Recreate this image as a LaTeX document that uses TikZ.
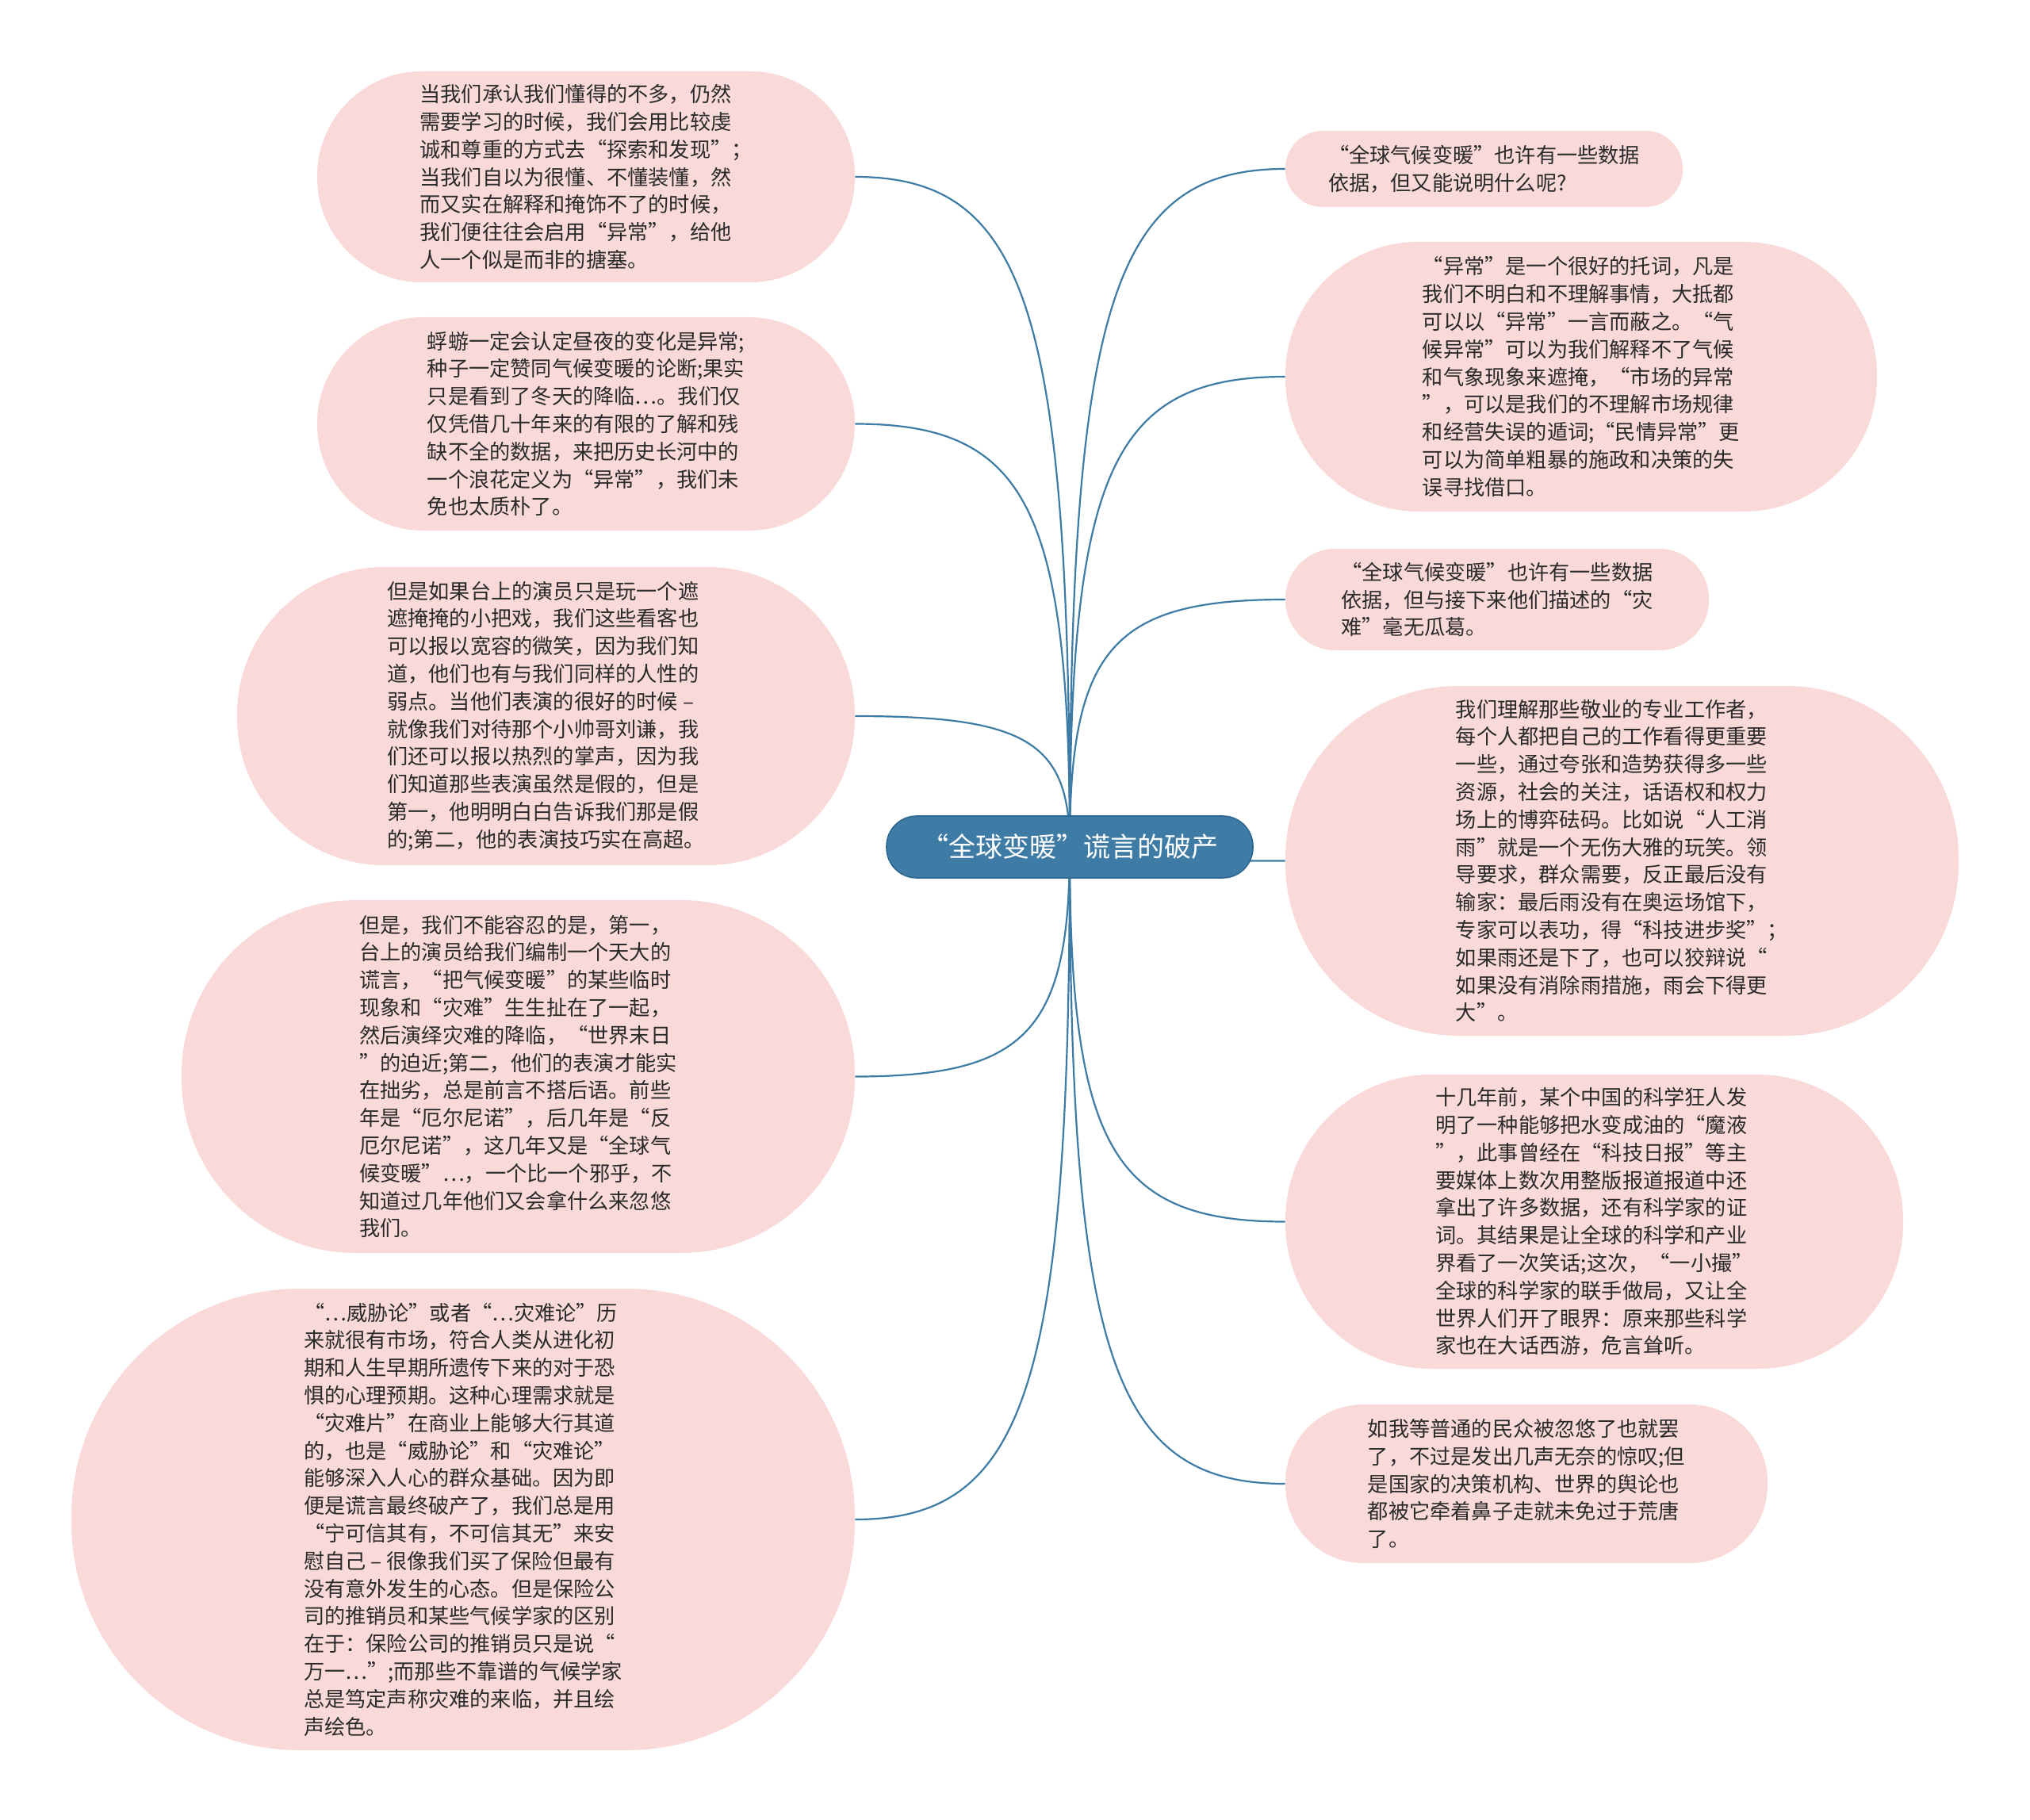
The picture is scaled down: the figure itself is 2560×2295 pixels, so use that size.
\documentclass[tikz,border=0pt]{standalone}
\usepackage{fontspec}
\newfontfamily\cjk{Noto Sans CJK SC}
\usetikzlibrary{backgrounds,calc}
\definecolor{pinkfill}{HTML}{FAD9D9}
\definecolor{linkblue}{HTML}{3F7CA5}
\definecolor{hubfill}{HTML}{3E7BA5}
\definecolor{hubline}{HTML}{2E6890}
\definecolor{txt}{HTML}{2A2A2A}
\begin{document}
\begin{tikzpicture}[x=0.5pt,y=-0.5pt,
  leaf/.style={fill=pinkfill, draw=none, inner sep=0pt, align=left, text=txt,
    font=\cjk\fontsize{13.1pt}{17.4pt}\selectfont},
  hub/.style={fill=hubfill, draw=hubline, line width=0.8pt, inner sep=0pt, text=white,
    minimum width=231pt, minimum height=39pt, rounded corners=19pt,
    font=\cjk\fontsize{17pt}{20pt}\selectfont},
  link/.style={draw=linkblue, line width=1.1pt}]
\useasboundingbox (0,0) rectangle (2560,2295);

\node[hub] (hub) at (1349,1068) {“全球变暖”谎言的破产};

\node[leaf, minimum width=339pt, minimum height=133pt, rounded corners=66pt] (L1) at (739,223)
 {当我们承认我们懂得的不多，仍然\\需要学习的时候，我们会用比较虔\\诚和尊重的方式去“探索和发现”；\\当我们自以为很懂、不懂装懂，然\\而又实在解释和掩饰不了的时候，\\我们便往往会启用“异常”，给他\\人一个似是而非的搪塞。};
\node[leaf, minimum width=339pt, minimum height=134.5pt, rounded corners=67pt] (L2) at (739,534.5)
 {蜉蝣一定会认定昼夜的变化是异常;\\种子一定赞同气候变暖的论断;果实\\只是看到了冬天的降临…。我们仅\\仅凭借几十年来的有限的了解和残\\缺不全的数据，来把历史长河中的\\一个浪花定义为“异常”，我们未\\免也太质朴了。};
\node[leaf, minimum width=389.5pt, minimum height=188pt, rounded corners=93pt] (L3) at (688.5,903)
 {但是如果台上的演员只是玩一个遮\\遮掩掩的小把戏，我们这些看客也\\可以报以宽容的微笑，因为我们知\\道，他们也有与我们同样的人性的\\弱点。当他们表演的很好的时候 –\\就像我们对待那个小帅哥刘谦，我\\们还可以报以热烈的掌声，因为我\\们知道那些表演虽然是假的，但是\\第一，他明明白白告诉我们那是假\\的;第二，他的表演技巧实在高超。};
\node[leaf, minimum width=424.5pt, minimum height=222.5pt, rounded corners=110pt] (L4) at (653.5,1357.5)
 {但是，我们不能容忍的是，第一，\\台上的演员给我们编制一个天大的\\谎言，“把气候变暖”的某些临时\\现象和“灾难”生生扯在了一起，\\然后演绎灾难的降临，“世界末日\\”的迫近;第二，他们的表演才能实\\在拙劣，总是前言不搭后语。前些\\年是“厄尔尼诺”，后几年是“反\\厄尔尼诺”，这几年又是“全球气\\候变暖”…，一个比一个邪乎，不\\知道过几年他们又会拿什么来忽悠\\我们。};
\node[leaf, minimum width=494pt, minimum height=291pt, rounded corners=144pt] (L5) at (584,1916)
 {“…威胁论”或者“…灾难论”历\\来就很有市场，符合人类从进化初\\期和人生早期所遗传下来的对于恐\\惧的心理预期。这种心理需求就是\\“灾难片”在商业上能够大行其道\\的，也是“威胁论”和“灾难论”\\能够深入人心的群众基础。因为即\\便是谎言最终破产了，我们总是用\\“宁可信其有，不可信其无”来安\\慰自己 – 很像我们买了保险但最有\\没有意外发生的心态。但是保险公\\司的推销员和某些气候学家的区别\\在于：保险公司的推销员只是说“\\万一…”;而那些不靠谱的气候学家\\总是笃定声称灾难的来临，并且绘\\声绘色。};

\node[leaf, minimum width=250.5pt, minimum height=48pt, rounded corners=23.5pt] (R1) at (1871.5,213)
 {“全球气候变暖”也许有一些数据\\依据，但又能说明什么呢?};
\node[leaf, minimum width=373pt, minimum height=170pt, rounded corners=84pt] (R2) at (1994,475)
 {“异常”是一个很好的托词，凡是\\我们不明白和不理解事情，大抵都\\可以以“异常”一言而蔽之。“气\\候异常”可以为我们解释不了气候\\和气象现象来遮掩，“市场的异常\\”，可以是我们的不理解市场规律\\和经营失误的遁词;“民情异常”更\\可以为简单粗暴的施政和决策的失\\误寻找借口。};
\node[leaf, minimum width=267pt, minimum height=64pt, rounded corners=31.5pt] (R3) at (1888,756)
 {“全球气候变暖”也许有一些数据\\依据，但与接下来他们描述的“灾\\难”毫无瓜葛。};
\node[leaf, minimum width=424.5pt, minimum height=220.5pt, rounded corners=109pt] (R4) at (2045.5,1085.5)
 {我们理解那些敬业的专业工作者，\\每个人都把自己的工作看得更重要\\一些，通过夸张和造势获得多一些\\资源，社会的关注，话语权和权力\\场上的博弈砝码。比如说“人工消\\雨”就是一个无伤大雅的玩笑。领\\导要求，群众需要，反正最后没有\\输家：最后雨没有在奥运场馆下，\\专家可以表功，得“科技进步奖”；\\如果雨还是下了，也可以狡辩说“\\如果没有消除雨措施，雨会下得更\\大”。};
\node[leaf, minimum width=389.5pt, minimum height=185.5pt, rounded corners=92pt] (R5) at (2010.5,1540.5)
 {十几年前，某个中国的科学狂人发\\明了一种能够把水变成油的“魔液\\”，此事曾经在“科技日报”等主\\要媒体上数次用整版报道报道中还\\拿出了许多数据，还有科学家的证\\词。其结果是让全球的科学和产业\\界看了一次笑话;这次，“一小撮”\\全球的科学家的联手做局，又让全\\世界人们开了眼界：原来那些科学\\家也在大话西游，危言耸听。};
\node[leaf, minimum width=304pt, minimum height=100pt, rounded corners=49pt] (R6) at (1925,1871)
 {如我等普通的民众被忽悠了也就罢\\了，不过是发出几声无奈的惊叹;但\\是国家的决策机构、世界的舆论也\\都被它牵着鼻子走就未免过于荒唐\\了。};

\begin{scope}[on background layer]
\fill[white] (0,0) rectangle (2560,2295);
\foreach \n in {L1,L2,L3,L4,L5}
  \draw[link] (hub.center) .. controls ($(hub.center)!0.8!(hub.center |- \n.east)$)
    and ($(\n.east)!0.8!(hub.center |- \n.east)$) .. (\n.east);
\foreach \n in {R1,R2,R3,R4,R5,R6}
  \draw[link] (hub.center) .. controls ($(hub.center)!0.8!(hub.center |- \n.west)$)
    and ($(\n.west)!0.8!(hub.center |- \n.west)$) .. (\n.west);
\end{scope}
\end{tikzpicture}
\end{document}
